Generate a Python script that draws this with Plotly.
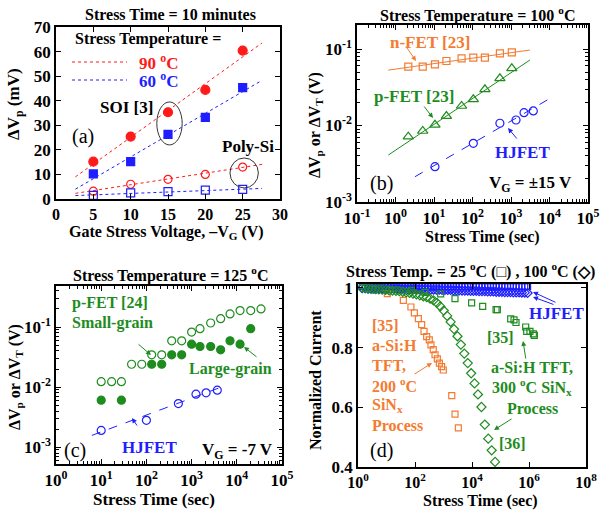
import plotly.graph_objects as go

W, H = 601, 510
FONT = "Liberation Serif"
RED = "#FF1A1A"
BLUE = "#1E1EFF"
ORANGE = "#F47B30"
GREEN = "#1E8C1E"

# ---------------- panel (a) ----------------
a_vg = [5, 10, 15, 20, 25]
a_soi_90 = [15.2, 25.4, 35.3, 44.4, 60.4]
a_soi_60 = [10.2, 15.2, 26.3, 33.2, 45.3]
a_poly_90 = [3.2, 6.0, 8.0, 10.0, 13.0]
a_poly_60 = [1.5, 2.5, 3.0, 3.6, 3.9]
a_fit_vg = [2.6, 27.6]
a_fit_soi_90 = [9.0, 63.5]
a_fit_soi_60 = [4.0, 48.3]
a_fit_poly_90 = [2.3, 14.1]
a_fit_poly_60 = [1.4, 4.3]
a_xticks = [0, 5, 10, 15, 20, 25, 30]
a_yticks = [0, 10, 20, 30, 40, 50, 60, 70]

# ---------------- panel (b) ----------------
b_n_t = [2.15, 5.1, 10.6, 21, 52, 105, 210, 515, 1050]
b_n_v = [0.0588, 0.0588, 0.063, 0.0697, 0.0755, 0.077, 0.077, 0.0877, 0.0905]
b_n_fit_t = [0.65, 3100]
b_n_fit_v = [0.053, 0.097]
b_p_t = [2.15, 5.1, 10.6, 21, 52, 105, 210, 515, 1050]
b_p_v = [0.00715, 0.00848, 0.0102, 0.0133, 0.018, 0.022, 0.0297, 0.0414, 0.0559]
b_p_fit_t = [0.65, 3100]
b_p_fit_v = [0.00411, 0.0718]
b_h_t = [10.6, 105, 515, 1350, 2180, 3800]
b_h_v = [0.0029, 0.00585, 0.0107, 0.0118, 0.0147, 0.0155]
b_h_fit_t = [3.2, 10300]
b_h_fit_v = [0.00214, 0.0226]

# ---------------- panel (c) ----------------
c_small_t = [10, 17, 28, 47, 79, 131, 218, 363, 603, 1000, 1535, 2640, 4390,
             7080, 11800, 20300, 34300]
c_small_v = [0.0123, 0.0123, 0.0123, 0.024, 0.024, 0.0344, 0.0344, 0.059, 0.059,
             0.0824, 0.0938, 0.1167, 0.138, 0.165, 0.188, 0.188, 0.2]
c_large_t = [10, 28, 131, 218, 363, 603, 1000, 1535, 2640, 4390, 7080, 11800, 20300]
c_large_v = [0.00605, 0.00605, 0.024, 0.024, 0.0344, 0.0344, 0.0519, 0.0474,
             0.0474, 0.0417, 0.059, 0.0519, 0.0938]
c_h_t = [10, 100, 510, 1250, 2090, 3700]
c_h_v = [0.0019, 0.0028, 0.00532, 0.00764, 0.00804, 0.0089]
c_h_fit_t = [6.2, 5970]
c_h_fit_v = [0.00157, 0.0108]

# ---------------- panel (d) ----------------
d_hj_t = [1.41, 1.78, 2.24, 2.82, 3.55, 4.47, 5.62, 7.08, 8.91, 11.2, 14.1, 17.8,
          22.4, 28.2, 35.5, 44.7, 56.2, 70.8, 89.1, 112, 141, 178, 224, 282, 355,
          447, 562, 708, 891, 1120, 1410, 1780, 2240, 2820, 3550, 4470, 5620,
          7080, 8910, 11200, 14100, 17800, 22400, 28200, 35500, 44700, 56200,
          70800, 89100, 112000, 141000, 178000, 224000, 282000, 355000, 447000,
          562000, 708000, 891000]
d_hj_25 = [1.004, 1.004, 1.004, 1.004, 1.004, 1.004, 1.004, 1.004, 1.004, 1.004,
           1.004, 1.004, 1.004, 1.004, 1.004, 1.004, 1.004, 1.004, 1.004, 1.004,
           1.004, 1.004, 1.004, 1.004, 1.004, 1.004, 1.004, 1.004, 1.004, 1.004,
           1.004, 1.004, 1.004, 1.004, 1.004, 1.004, 1.004, 1.004, 1.004, 1.004,
           1.004, 1.004, 1.004, 1.004, 1.004, 1.004, 1.004, 1.004, 1.004, 1.004,
           1.004, 1.004, 1.004, 1.004, 1.004, 1.004, 1.004, 1.004, 1.004]
d_hj_100 = [0.999, 0.999, 0.998, 0.998, 0.998, 0.998, 0.998, 0.998, 0.997, 0.997,
            0.997, 0.997, 0.997, 0.997, 0.996, 0.996, 0.996, 0.996, 0.996, 0.995,
            0.995, 0.995, 0.995, 0.995, 0.994, 0.994, 0.994, 0.994, 0.993, 0.993,
            0.993, 0.993, 0.992, 0.992, 0.992, 0.991, 0.991, 0.991, 0.990, 0.990,
            0.990, 0.989, 0.989, 0.989, 0.988, 0.988, 0.988, 0.987, 0.987, 0.987,
            0.986, 0.986, 0.986, 0.985, 0.985, 0.985, 0.984, 0.984, 0.983]
d_35o_t = [10.7, 39, 72, 95, 131, 171, 207, 257, 317, 364, 437, 504, 608, 717,
           860, 983, 1950, 2540, 3320]
d_35o_i = [0.981, 0.958, 0.936, 0.916, 0.897, 0.877, 0.854, 0.837, 0.826, 0.809,
           0.793, 0.776, 0.762, 0.748, 0.736, 0.725, 0.639, 0.577, 0.531]
d_35g_t = [76, 224, 795, 2530, 9700, 23700, 69800, 77600, 228000, 298000,
           350000, 765000, 830000, 1080000, 1420000, 1540000]
d_35g_i = [0.992, 0.985, 0.98, 0.964, 0.95, 0.938, 0.927, 0.927, 0.896, 0.893,
           0.884, 0.869, 0.854, 0.854, 0.846, 0.841]
d_36_t = [1.35, 1.78, 2.34, 3.09, 4.07, 5.37, 7.08, 9.33, 12.3, 16.2, 21.4, 28.2,
          37.2, 49.0, 64.6, 85.1, 112, 148, 195, 257, 339, 447, 589, 776, 1020,
          1350, 1780, 2340, 3090, 4070, 5370, 7080, 9330, 12300, 16200, 21400,
          28200, 37200, 49000, 64600]
d_36_i = [1.0, 0.999, 0.998, 0.997, 0.996, 0.995, 0.994, 0.993, 0.992, 0.991,
          0.990, 0.989, 0.987, 0.985, 0.983, 0.981, 0.978, 0.975, 0.972, 0.969,
          0.964, 0.958, 0.950, 0.938, 0.924, 0.906, 0.886, 0.862, 0.838, 0.810,
          0.780, 0.748, 0.714, 0.680, 0.643, 0.601, 0.542, 0.495, 0.456, 0.417]

log_b_x = [-1, 0, 1, 2, 3, 4, 5]
log_b_y = [-3, -2, -1]
log_c_x = [0, 1, 2, 3, 4, 5]
log_c_y = [-3, -2, -1]
log_d_x = [0, 2, 4, 6, 8]
d_yticks = [0.4, 0.6, 0.8, 1.0]
d_yticktext = ["0.4", "0.6", "0.8", "1"]


def pw(e):
    s = str(e) if e >= 0 else "-" + str(-e)
    return "<b>10<sup>" + s + "</sup></b>"


def minor_vals(lo, hi):
    out = []
    for e in range(lo, hi):
        for m in range(2, 10):
            out.append(m * 10 ** e)
    return out


fig = go.Figure()


def sc(x, y, xa, ya, mode="markers", symbol="circle", color="black", size=8,
       dash=None, lw=1):
    kw = dict(x=x, y=y, xaxis=xa, yaxis=ya, mode=mode, showlegend=False,
              hoverinfo="skip")
    if mode == "markers":
        kw["marker"] = dict(symbol=symbol, size=size, color=color,
                            line=dict(color=color, width=1.2))
    else:
        kw["line"] = dict(color=color, width=lw, dash=dash)
    fig.add_trace(go.Scatter(**kw))


# panel (a)
sc(a_fit_vg, a_fit_soi_90, "x", "y", mode="lines", color=RED, dash="dot")
sc(a_fit_vg, a_fit_soi_60, "x", "y", mode="lines", color=BLUE, dash="dot")
sc(a_fit_vg, a_fit_poly_90, "x", "y", mode="lines", color=RED, dash="dot")
sc(a_fit_vg, a_fit_poly_60, "x", "y", mode="lines", color=BLUE, dash="dot")
sc(a_vg, a_soi_90, "x", "y", symbol="circle", color=RED, size=9)
sc(a_vg, a_soi_60, "x", "y", symbol="square", color=BLUE, size=8)
sc(a_vg, a_poly_90, "x", "y", symbol="circle-open", color=RED, size=8)
sc(a_vg, a_poly_60, "x", "y", symbol="square-open", color=BLUE, size=8)

# panel (b)
sc(b_n_fit_t, b_n_fit_v, "x2", "y2", mode="lines", color=ORANGE)
sc(b_p_fit_t, b_p_fit_v, "x2", "y2", mode="lines", color=GREEN)
sc(b_h_fit_t, b_h_fit_v, "x2", "y2", mode="lines", color=BLUE, dash="dash")
sc(b_n_t, b_n_v, "x2", "y2", symbol="square-open", color=ORANGE, size=7)
sc(b_p_t, b_p_v, "x2", "y2", symbol="triangle-up-open", color=GREEN, size=9)
sc(b_h_t, b_h_v, "x2", "y2", symbol="circle-open", color=BLUE, size=8)

# panel (c)
sc(c_h_fit_t, c_h_fit_v, "x3", "y3", mode="lines", color=BLUE, dash="dash")
sc(c_small_t, c_small_v, "x3", "y3", symbol="circle-open", color=GREEN, size=8)
sc(c_large_t, c_large_v, "x3", "y3", symbol="circle", color=GREEN, size=8)
sc(c_h_t, c_h_v, "x3", "y3", symbol="circle-open", color=BLUE, size=8)

# panel (d)
sc(d_hj_t, d_hj_25, "x4", "y4", symbol="square-open", color=BLUE, size=6)
sc(d_hj_t, d_hj_100, "x4", "y4", symbol="diamond-open", color=BLUE, size=7)
sc(d_35o_t, d_35o_i, "x4", "y4", symbol="square-open", color=ORANGE, size=6)
sc(d_35g_t, d_35g_i, "x4", "y4", symbol="square-open", color=GREEN, size=6)
sc(d_36_t, d_36_i, "x4", "y4", symbol="diamond-open", color=GREEN, size=7)


def px(x):
    return x / W


def py(y):
    return 1 - y / H


base_axis = dict(showline=True, linecolor="black", linewidth=1.5, mirror="allticks",
                 ticks="inside", ticklen=5, tickwidth=1, tickcolor="black",
                 showgrid=False, zeroline=False, tickmode="array", automargin=False,
                 tickfont=dict(family=FONT, size=17, color="black"))


def ax(domain, anchor, **kw):
    d = dict(base_axis)
    d.update(domain=domain, anchor=anchor)
    d.update(kw)
    return d


minor_style = dict(ticks="inside", ticklen=3, tickcolor="black", tickwidth=1)

fig.update_layout(
    template="none",
    width=W, height=H, margin=dict(l=0, r=0, t=0, b=0, pad=0),
    paper_bgcolor="white", plot_bgcolor="white",
    font=dict(family=FONT, color="black"),
    xaxis=ax([px(56), px(280)], "y", range=[0, 30], tickvals=a_xticks,
             ticktext=["<b>%d</b>" % v for v in a_xticks],
             tickfont=dict(family=FONT, size=16, color="black")),
    yaxis=ax([py(199), py(27)], "x", range=[0, 70], tickvals=a_yticks,
             ticktext=["<b>%d</b>" % v for v in a_yticks]),
    xaxis2=ax([px(357), px(588)], "y2", type="log", range=[-1, 5],
              tickvals=[10 ** e for e in log_b_x], ticktext=[pw(e) for e in log_b_x],
              minor=dict(tickvals=minor_vals(-1, 5), **minor_style)),
    yaxis2=ax([py(202), py(25)], "x2", type="log", range=[-3, -0.686],
              tickvals=[10 ** e for e in log_b_y], ticktext=[pw(e) for e in log_b_y],
              minor=dict(tickvals=minor_vals(-3, 0), **minor_style)),
    xaxis3=ax([px(56), px(282)], "y3", type="log", range=[0, 5],
              tickvals=[10 ** e for e in log_c_x], ticktext=[pw(e) for e in log_c_x],
              minor=dict(tickvals=minor_vals(0, 5), **minor_style)),
    yaxis3=ax([py(464), py(286)], "x3", type="log", range=[-3.28, -0.317],
              tickvals=[10 ** e for e in log_c_y], ticktext=[pw(e) for e in log_c_y],
              minor=dict(tickvals=minor_vals(-4, 0), **minor_style)),
    xaxis4=ax([px(358), px(586)], "y4", type="log", range=[0, 8],
              tickvals=[10 ** e for e in log_d_x], ticktext=[pw(e) for e in log_d_x],
              tickfont=dict(family=FONT, size=16, color="black")),
    yaxis4=ax([py(467), py(284)], "x4", range=[0.4, 1.013], tickvals=d_yticks,
              ticktext=["<b>%s</b>" % t for t in d_yticktext]),
)

ann = []


def txt(x, y, s, color="black", size=16, bold=True, xanchor="center", angle=0):
    ann.append(dict(x=px(x), y=py(y), xref="paper", yref="paper",
                    text=("<b>%s</b>" % s) if bold else s, showarrow=False,
                    xanchor=xanchor, yanchor="middle", textangle=angle,
                    font=dict(family=FONT, size=size, color=color)))


def arrow(x0, y0, x1, y1, color):
    ann.append(dict(x=px(x1), y=py(y1), xref="paper", yref="paper", text="",
                    showarrow=True, ax=x0 - x1, ay=y0 - y1, axref="pixel",
                    ayref="pixel", arrowhead=2, arrowsize=1, arrowwidth=1,
                    arrowcolor=color))


# titles
txt(170, 14, "Stress Time = 10 minutes", size=16)
txt(477, 14, "Stress Temperature = 100 <sup>o</sup>C", size=16)
txt(170, 274, "Stress Temperature = 125 <sup>o</sup>C", size=16)
txt(470, 270, "Stress Temp. = 25 <sup>o</sup>C (□) , 100 <sup>o</sup>C (◇)", size=16)

# axis titles
txt(167, 233, "Gate Stress Voltage, –V<sub>G</sub> (V)", size=16)
txt(15, 104, "ΔV<sub>p</sub> (mV)", size=17, angle=-90)
txt(482, 237, "Stress Time (sec)", size=16)
txt(315, 125, "ΔV<sub>p</sub> or ΔV<sub>T</sub> (V)", size=16, angle=-90)
txt(154, 499, "Stress Time (sec)", size=17)
txt(15, 377, "ΔV<sub>p</sub> or ΔV<sub>T</sub> (V)", size=16, angle=-90)
txt(480, 501, "Stress Time (sec)", size=16)
txt(315, 380, "Normalized Current", size=16, angle=-90)

# panel (a) annotations
txt(73, 39, "Stress Temperature =", size=16, xanchor="left")
txt(137, 62, "90 <sup>o</sup>C", color=RED, size=17, xanchor="left")
txt(137, 80, "60 <sup>o</sup>C", color=BLUE, size=17, xanchor="left")
txt(98, 107, "SOI [3]", size=17, xanchor="left")
txt(70, 137, "(a)", size=20, bold=False, xanchor="left")
txt(220, 146, "Poly-Si", size=17, xanchor="left")

# panel (b) annotations
txt(388, 42, "n-FET [23]", color=ORANGE, size=17, xanchor="left")
arrow(405, 45, 416, 61, ORANGE)
txt(372, 96, "p-FET [23]", color=GREEN, size=17, xanchor="left")
arrow(423, 105, 433, 118, GREEN)
txt(493, 152, "HJFET", color=BLUE, size=17, xanchor="left")
arrow(518, 140, 508, 128, BLUE)
txt(368, 183, "(b)", size=20, bold=False, xanchor="left")
txt(487, 184, "V<sub>G</sub> = ±15 V", size=17, xanchor="left")

# panel (c) annotations
txt(70, 303, "p-FET [24]", color=GREEN, size=16, xanchor="left")
txt(70, 323, "Small-grain", color=GREEN, size=16, xanchor="left")
arrow(137, 343, 151, 355, GREEN)
txt(187, 369, "Large-grain", color=GREEN, size=16, xanchor="left")
arrow(258, 358, 244, 347, GREEN)
txt(120, 447, "HJFET", color=BLUE, size=17, xanchor="left")
arrow(138, 427, 132, 418, BLUE)
txt(62, 450, "(c)", size=20, bold=False, xanchor="left")
txt(200, 451, "V<sub>G</sub> = -7 V", size=17, xanchor="left")

# panel (d) annotations
for i, s in enumerate(["[35]", "a-Si:H", "TFT,", "200 <sup>o</sup>C",
                       "SiN<sub>x</sub>", "Process"]):
    txt(370, 325 + 20 * i, s, color=ORANGE, size=16, xanchor="left")
arrow(413, 375, 432, 363, ORANGE)
txt(527, 313, "HJFET", color=BLUE, size=17, xanchor="left")
arrow(557, 303, 533, 292, BLUE)
arrow(555, 305, 533, 297, BLUE)
txt(485, 337, "[35]", color=GREEN, size=16, xanchor="left")
txt(532, 367, "a-Si:H TFT,", color=GREEN, size=16)
txt(532, 387, "300 <sup>o</sup>C SiN<sub>x</sub>", color=GREEN, size=16)
txt(532, 408, "Process", color=GREEN, size=16)
arrow(526, 360, 523, 341, GREEN)
arrow(513, 418, 494, 430, GREEN)
txt(497, 443, "[36]", color=GREEN, size=16, xanchor="left")
txt(368, 450, "(d)", size=20, bold=False, xanchor="left")

fig.update_layout(annotations=ann)

shapes = [
    dict(type="line", xref="paper", yref="paper", x0=px(72), x1=px(127),
         y0=py(62), y1=py(62), line=dict(color=RED, width=1, dash="dot")),
    dict(type="line", xref="paper", yref="paper", x0=px(72), x1=px(127),
         y0=py(80), y1=py(80), line=dict(color=BLUE, width=1, dash="dot")),
    dict(type="circle", xref="x", yref="y", x0=13.5, x1=16.9, y0=22, y1=39.5,
         line=dict(color="#333333", width=1)),
    dict(type="circle", xref="x", yref="y", x0=23.3, x1=27.1, y0=4.5, y1=16.7,
         line=dict(color="#333333", width=1)),
]
fig.update_layout(shapes=shapes)

fig.write_html("out.html", config={"displayModeBar": False},
               post_script="document.body.style.margin='0';"
               "document.body.style.overflow='hidden';")
